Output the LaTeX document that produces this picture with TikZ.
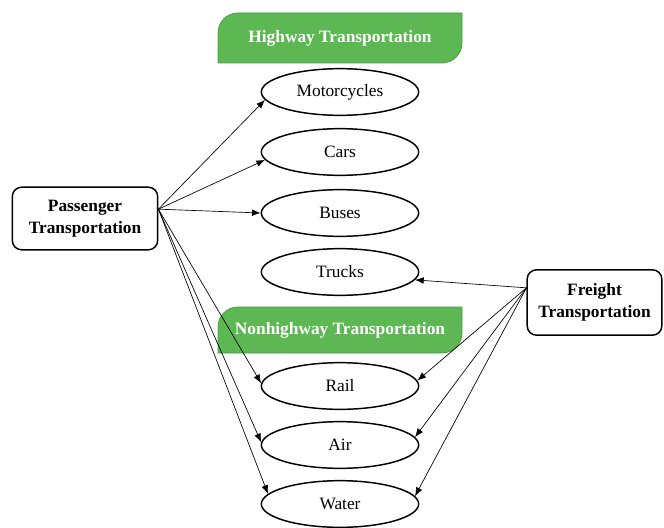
\documentclass[tikz,border=0pt]{standalone}
\usepackage{fontspec}
\setmainfont{Liberation Serif}
\usetikzlibrary{arrows.meta,shapes.geometric}
\definecolor{bannergreen}{RGB}{93,184,84}
\definecolor{bannerrim}{RGB}{72,158,66}

\begin{document}
\begin{tikzpicture} [x=0.75pt, y=-0.75pt,
        mode/.style={ellipse, draw, fill=white, line width=1.1pt, minimum width=118pt,
            minimum height=35pt, inner sep=0pt, font=\fontsize{13}{15}\selectfont},
        sector/.style={rectangle, rounded corners=7pt, draw, fill=white, line width=1.1pt,
            align=center, inner sep=0pt, font=\bfseries\fontsize{13}{16.5}\selectfont},
        banner/.style={fill=bannergreen, draw=bannerrim, line width=0.6pt},
        bannertext/.style={text=white, font=\bfseries\fontsize{13}{15}\selectfont},
        link/.style={-{Latex[length=6.5pt,width=5pt]}, line width=0.5pt}]
    \useasboundingbox (0,0) rectangle (664,528);
    % green headings, rounded at top left and bottom right
    \foreach \name/\top/\bot/\txt in {hwy/13/63/Highway Transportation,
                                      nonhwy/307/353/Nonhighway Transportation} {
        \filldraw[banner] (218,\bot) -- (218,\top+20) arc[start angle=180, end angle=270, radius=20]
            -- (462,\top) -- (462,\bot-20) arc[start angle=0, end angle=90, radius=20] -- cycle;
        \node[bannertext] (\name) at (340,{(\top+\bot)/2}) {\txt};
    }
    % modes
    \foreach \name/\y/\txt in {moto/92/Motorcycles, cars/152/Cars, buses/213/Buses,
                               trucks/272/Trucks, rail/386/Rail, air/445/Air, water/504/Water}
        \node[mode] (\name) at (340,\y) {\txt};
    \node[sector, minimum width=109pt, minimum height=47pt] (pass) at (85,218.5)
        {Passenger\\Transportation};
    \node[sector, minimum width=101pt, minimum height=49pt] (frt) at (594.5,302.5)
        {Freight\\Transportation};
    \coordinate (pout) at ([yshift=7pt]pass.east);
    \coordinate (fout) at ([yshift=11pt]frt.west);
    % arrows land on the near side of each ellipse
    \foreach \to/\a in {moto/186, cars/186, buses/180, rail/178, air/178, water/172}
        \draw[link] (pout) -- (\to.\a);
    \foreach \to/\a in {trucks/354, rail/4, air/6, water/6}
        \draw[link] (fout) -- (\to.\a);
\end{tikzpicture}
\end{document}
